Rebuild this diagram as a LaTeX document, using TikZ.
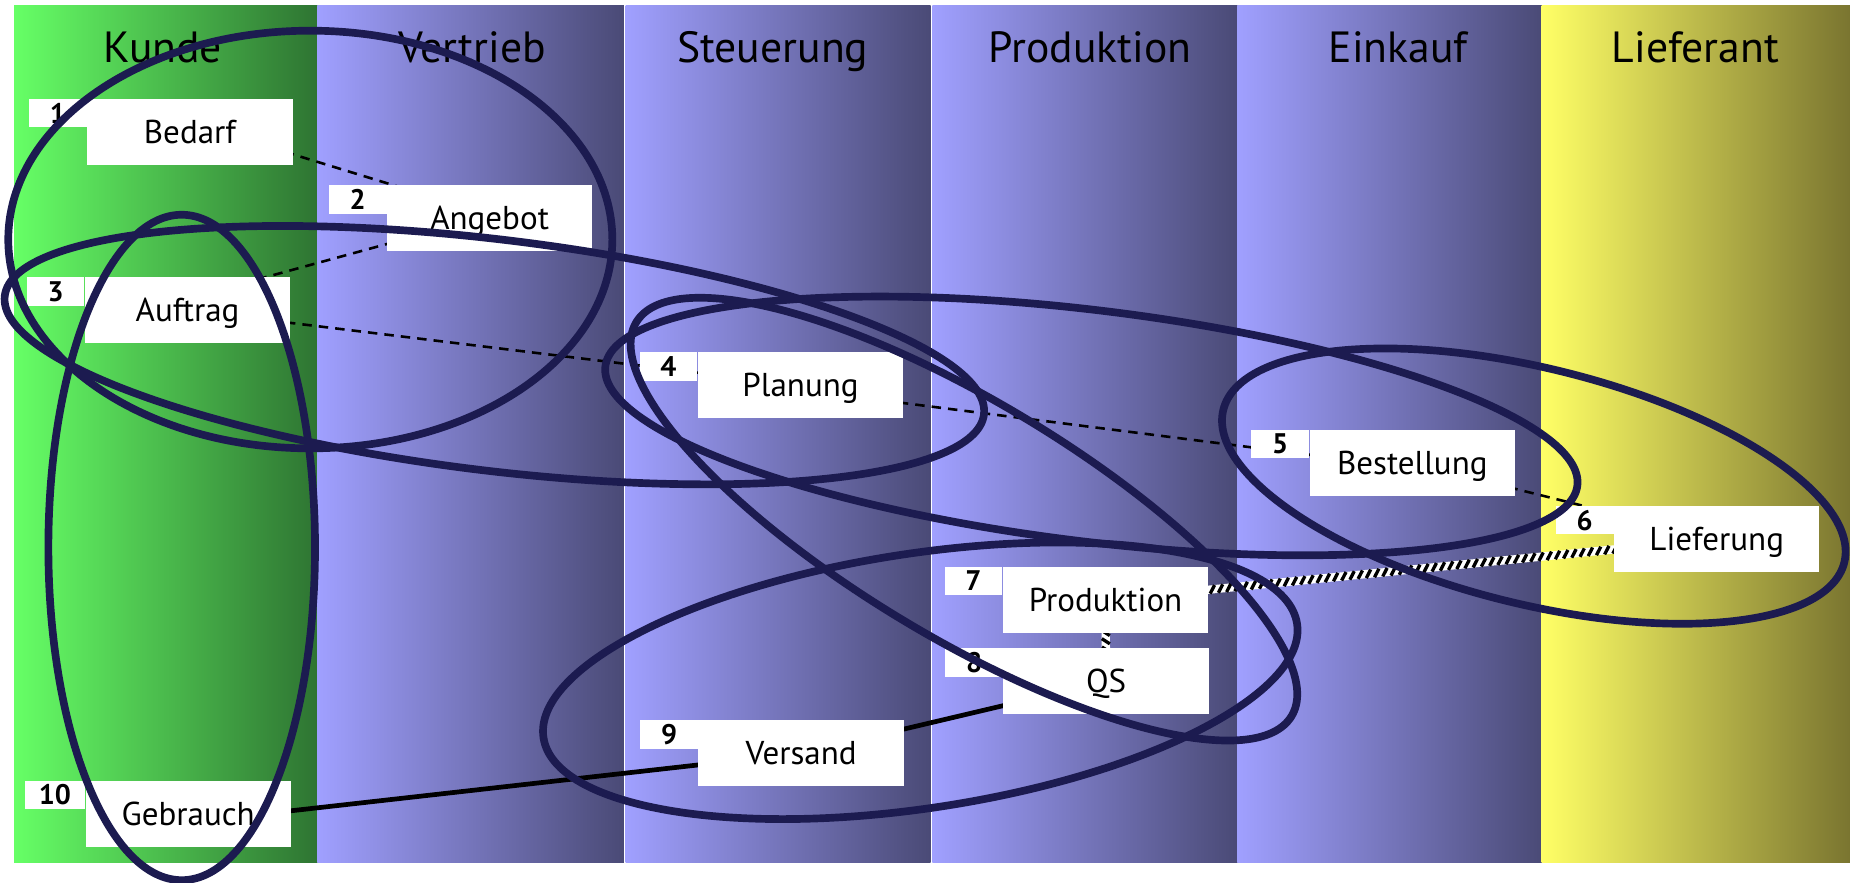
\documentclass[tikz,border=0pt]{standalone}
\usepackage{fontspec}
\setmainfont{PT Sans}
\usetikzlibrary{calc,decorations.markings}
\definecolor{navy}{RGB}{28,27,80}
\definecolor{kgL}{RGB}{102,255,102}
\definecolor{kgR}{RGB}{46,116,50}
\definecolor{lvL}{RGB}{160,160,255}
\definecolor{lvR}{RGB}{74,74,118}
\definecolor{ylL}{RGB}{255,255,102}
\definecolor{ylR}{RGB}{122,117,48}
\pgfdeclarelayer{back}
\pgfdeclarelayer{lines}
\pgfsetlayers{back,lines,main}
\begin{document}
\begin{tikzpicture}[x=1pt,y=-1pt,
  hdr/.style={anchor=base, inner sep=0pt, font=\fontsize{37}{42}\selectfont},
  box/.style={fill=white, minimum width=174pt, minimum height=56pt, inner sep=0pt,
    font=\fontsize{28}{30}\selectfont, text height=19.6pt, text depth=0pt},
  tab/.style={fill=white, minimum width=49pt, minimum height=24pt, inner sep=0pt,
    anchor=north east, font=\bfseries\fontsize{24}{26}\selectfont, text height=16.5pt, text depth=0pt},
  ell/.style={draw=navy, line width=6.5pt},
  dashline/.style={draw=black, line width=2.2pt, dash pattern=on 8pt off 6pt},
  solidline/.style={draw=black, line width=4pt},
  stripe/.style={draw=white, line width=7pt,
    postaction={decorate, decoration={markings,
      mark=between positions 0 and 1 step 7pt with {\draw[black, line width=2.8pt] (-2.2pt,-3.4pt) -- (2.2pt,3.4pt);}}}}]

\useasboundingbox (0,0) rectangle (1568,748);

\begin{pgfonlayer}{back}
\fill[white] (0,0) rectangle (1568,748);
\shade[left color=kgL, right color=kgR] (12,5) rectangle (269.3,731);
\shade[left color=lvL, right color=lvR] (269,5) rectangle (528.7,731);
\shade[left color=lvL, right color=lvR] (530.3,5) rectangle (788.7,731);
\shade[left color=lvL, right color=lvR] (790.3,5) rectangle (1049,731);
\shade[left color=lvL, right color=lvR] (1048.7,5) rectangle (1307,731);
\shade[left color=ylL, right color=ylR] (1306.7,5) rectangle (1568,731);
\node[hdr] (h1) at (138,53) {Kunde};
\node[hdr] (h2) at (400,53) {Vertrieb};
\node[hdr] (h3) at (655,53) {Steuerung};
\node[hdr] (h4) at (924,53) {Produktion};
\node[hdr] (h5) at (1185,53) {Einkauf};
\node[hdr] (h6) at (1437,53) {Lieferant};
\end{pgfonlayer}

% boxes
\node[box] (b1) at (161,112) {Bedarf};
\node[tab] (t1) at (b1.north west) {1};
\node[box] (b2) at (415,185) {Angebot};
\node[tab] (t2) at (b2.north west) {2};
\node[box] (b3) at (159,263) {Auftrag};
\node[tab] (t3) at (b3.north west) {3};
\node[box] (b4) at (678.5,326.5) {Planung};
\node[tab] (t4) at (b4.north west) {4};
\node[box] (b5) at (1197,392.5) {Bestellung};
\node[tab] (t5) at (b5.north west) {5};
\node[box] (b6) at (1455,457) {Lieferung};
\node[tab] (t6) at (b6.north west) {6};
\node[box] (b7) at (937,508.5) {Produktion};
\node[tab] (t7) at (b7.north west) {7};
\node[box] (b8) at (937.5,577.5) {QS};
\node[tab] (t8) at (b8.north west) {8};
\node[box] (b9) at (679,638.5) {Versand};
\node[tab] (t9) at (b9.north west) {9};
\node[box] (b10) at (159.5,690) {Gebrauch};
\node[tab, minimum width=51pt] (t10) at (b10.north west) {10};

\begin{pgfonlayer}{lines}
\draw[dashline] ([yshift=8pt]b1.center) -- ([yshift=3pt]b2.center);
\draw[dashline] ([yshift=2pt]b2.center) -- ([yshift=10pt]b3.center);
\draw[dashline] (b3.center) -- (b4.center);
\draw[dashline] ([yshift=-4pt]b4.center) -- ([yshift=-4pt]b5.center);
\draw[dashline] (b5.center) -- (b6.center);
\draw[stripe] (b7.center) -- (b6.center);
\draw[stripe] (b7.center) -- (b8.center);
\draw[solidline] (b8.center) -- (b9.center);
\draw[solidline] (b9.center) -- ([yshift=-7pt]b10.center);
\end{pgfonlayer}

% grouping ellipses
\draw[ell] (263,203) ellipse [x radius=256pt, y radius=177pt];
\draw[ell] (154,464) ellipse [x radius=113pt, y radius=282pt];
\draw[ell, rotate around={-6.9:(419,301)}] (419,301) ellipse [x radius=418pt, y radius=98pt];
\draw[ell, rotate around={-31:(817,440)}] (817,440) ellipse [x radius=324pt, y radius=100pt];
\draw[ell, rotate around={-7:(925,361)}] (925,361) ellipse [x radius=415pt, y radius=98pt];
\draw[ell, rotate around={-13.8:(1300,412)}] (1300,412) ellipse [x radius=271pt, y radius=100pt];
\draw[ell, rotate around={8.6:(780,577)}] (780,577) ellipse [x radius=323pt, y radius=108pt];
\end{tikzpicture}
\end{document}
